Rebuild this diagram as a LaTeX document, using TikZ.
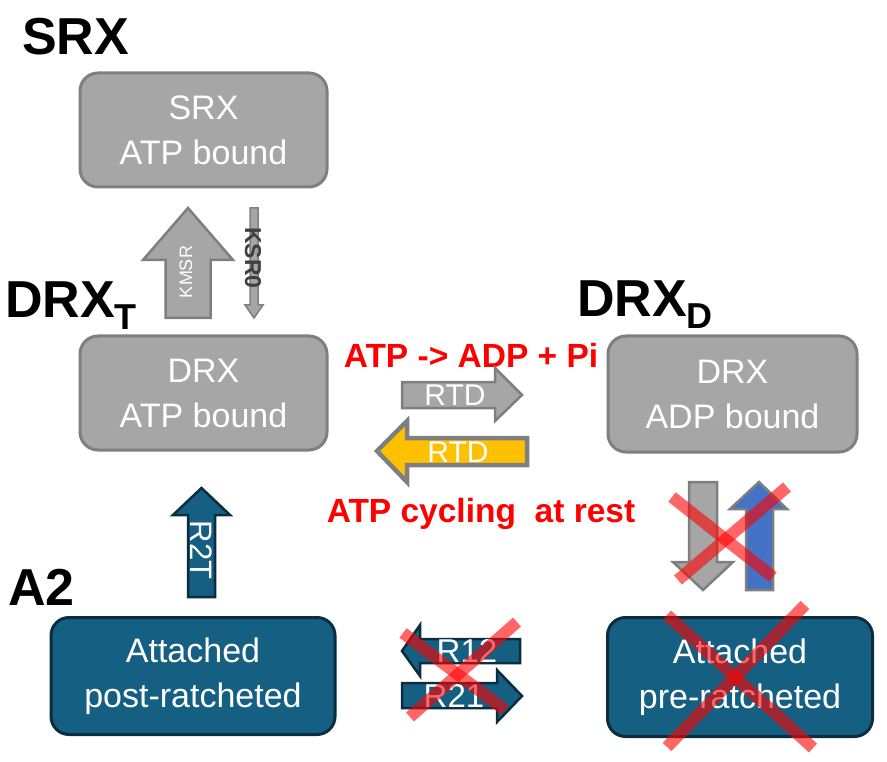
\documentclass[tikz,border=0pt]{standalone}
\usepackage{fontspec}
\setmainfont{Liberation Sans}
\usepackage{tikz}

\definecolor{boxgray}{HTML}{A6A6A6}
\definecolor{edgegray}{HTML}{7F7F7F}
\definecolor{atteal}{HTML}{156082}
\definecolor{tealedge}{HTML}{0C2D3E}
\definecolor{atpyellow}{HTML}{FFC000}
\definecolor{upblue}{HTML}{4472C4}
\definecolor{labeldark}{HTML}{3F3F3F}

\tikzset{
  title/.style={font=\fontsize{52}{52}\selectfont\bfseries, anchor=base west, inner sep=0pt},
  redtext/.style={font=\fontsize{33.5}{33.5}\selectfont\bfseries, text=red, anchor=base, inner sep=0pt},
  greybox/.style={draw=edgegray, fill=boxgray, line width=3pt, rounded corners=18pt,
    text=white, align=center, font=\fontsize{34}{45}\selectfont},
  tealbox/.style={greybox, draw=tealedge, fill=atteal},
  greyarr/.style={draw=edgegray, fill=boxgray, line width=2.5pt},
  tealarr/.style={draw=tealedge, fill=atteal, line width=2.5pt},
  arrlabel/.style={text=white, inner sep=0pt, font=\fontsize{30}{30}\selectfont},
  cross/.style={draw=red, draw opacity=0.6, line width=12pt}
}

\begin{document}
\begin{tikzpicture}[x=1pt,y=-1pt]
  \useasboundingbox (0,0) rectangle (887,762);

  % state titles
  \node[title] (tsrx) at (22,55) {SRX};
  \node[title] (tdrxt) at (5,318) {DRX\raisebox{-12pt}{\fontsize{36}{36}\selectfont T}};
  \node[title] (tdrxd) at (577,317) {DRX\raisebox{-12pt}{\fontsize{36}{36}\selectfont D}};
  \node[title] (ta2) at (8,605) {A2};

  % states
  \node[greybox, minimum width=247pt, minimum height=114pt] (srx) at (203.5,130) {SRX\\ATP bound};
  \node[greybox, minimum width=247pt, minimum height=114pt] (drxt) at (203.5,393) {DRX\\ATP bound};
  \node[greybox, minimum width=249pt, minimum height=116pt] (drxd) at (732.5,394) {DRX\\ADP bound};
  \node[tealbox, minimum width=284pt, minimum height=117pt] (post) at (193,676) {Attached\\post-ratcheted};
  \node[tealbox, minimum width=265pt, minimum height=119pt] (pre) at (740,677) {Attached\\pre-ratcheted};

  % SRX <-> DRX_T
  \draw[greyarr] (165.5,318) -- (165.5,260) -- (143,260) -- (188,208) -- (233,260) -- (210.5,260) -- (210.5,318) -- cycle;
  \node[arrlabel, rotate=90, font=\fontsize{18}{18}\selectfont] (kmsr) at (186,272) {KMSR};
  \draw[greyarr, line width=1.5pt] (250,208) -- (258,208) -- (258,305) -- (263,305) -- (254,318) -- (245,305) -- (250,305) -- cycle;
  \node[inner sep=0pt, rotate=-90, text=labeldark, font=\fontsize{23}{23}\selectfont\bfseries] (ksr) at (253,258) {KSR0};

  % DRX_T <-> DRX_D
  \node[redtext] (hydro) at (471,367) {ATP -> ADP + Pi};
  \draw[greyarr] (402,382) -- (495,382) -- (495,368) -- (522,395) -- (495,421) -- (495,408) -- (402,408) -- cycle;
  \node[arrlabel] (rtdf) at (455,395) {RTD};
  \draw[greyarr, fill=atpyellow, line width=4.5pt] (527,438) -- (407,438) -- (407,421) -- (377,451) -- (407,482) -- (407,465) -- (527,465) -- cycle;
  \node[arrlabel] (rtdb) at (458,452) {RTD};
  \node[redtext] (cycling) at (481,522) {ATP cycling\ \ at rest};

  % A2 -> DRX_T
  \draw[tealarr] (188,597) -- (188,515) -- (173,515) -- (201.5,488) -- (230,515) -- (215,515) -- (215,597) -- cycle;
  \node[arrlabel, rotate=-90, font=\fontsize{31}{31}\selectfont] (r2t) at (201,550) {R2T};

  % DRX_D <-> pre-ratcheted
  \draw[greyarr] (689,482) -- (717,482) -- (717,562) -- (733,562) -- (703,590) -- (673,562) -- (689,562) -- cycle;
  \draw[greyarr, fill=upblue] (746,590) -- (746,509) -- (730,509) -- (759,482) -- (787,509) -- (773,509) -- (773,590) -- cycle;

  % post <-> pre
  \draw[tealarr] (520,639) -- (420,639) -- (420,625) -- (402,651) -- (420,676) -- (420,663) -- (520,663) -- cycle;
  \node[arrlabel, font=\fontsize{33}{33}\selectfont] (r12) at (467,651) {R12};
  \draw[tealarr] (402,683) -- (497,683) -- (497,670) -- (522,696) -- (497,722) -- (497,708) -- (402,708) -- cycle;
  \node[arrlabel, font=\fontsize{33}{33}\selectfont] (r21) at (454,696) {R21};

  % crossed out
  \draw[cross] (672,497) -- (773,577);
  \draw[cross] (787,487) -- (678,580);
  \draw[cross] (667,615) -- (813,748);
  \draw[cross] (805,605) -- (667,747);
  \draw[cross] (403,633) -- (505,710);
  \draw[cross] (517,622) -- (410,717);
\end{tikzpicture}
\end{document}
